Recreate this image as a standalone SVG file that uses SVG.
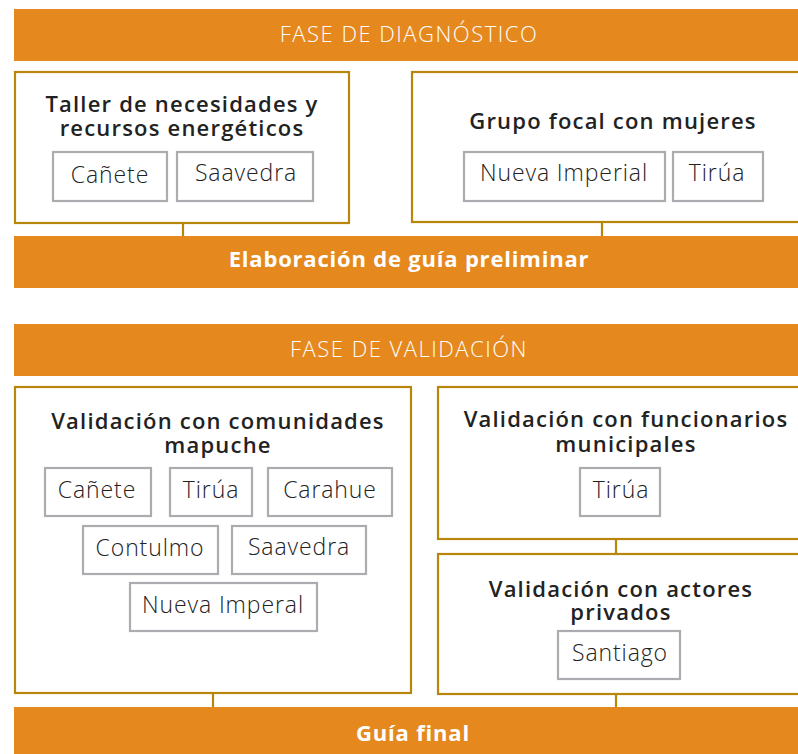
<svg xmlns="http://www.w3.org/2000/svg" width="798" height="754" viewBox="0 0 798 754">
<style>
.bar{fill:#E5891E}
.box{fill:#fff;stroke:#B8860B;stroke-width:2.2}
.sub{fill:#fff;stroke:#ABABB0;stroke-width:2.2}
.conn{stroke:#B8860B;stroke-width:2.2;fill:none}
.hd{font-family:"Open Sans",sans-serif;font-weight:300;font-size:22px;letter-spacing:1.5px;fill:#fff;text-anchor:middle}
.bt{font-family:"Open Sans",sans-serif;font-weight:700;font-size:22px;letter-spacing:0.8px;fill:#fff;text-anchor:middle}
.ti{font-family:"Open Sans",sans-serif;font-weight:600;font-size:22px;letter-spacing:1.2px;fill:#222;text-anchor:middle}
.lb{font-family:"Open Sans",sans-serif;font-weight:300;font-size:23px;letter-spacing:0.9px;fill:#222;text-anchor:middle}
</style>
<rect width="798" height="754" fill="#fff"/>
<g id="connectors">
<line class="conn" x1="183" y1="222" x2="183" y2="237"/>
<line class="conn" x1="602" y1="222" x2="602" y2="237"/>
<line class="conn" x1="213" y1="693" x2="213" y2="708"/>
<line class="conn" x1="616" y1="538" x2="616" y2="555"/>
<line class="conn" x1="616" y1="693" x2="616" y2="708"/>
</g>
<g id="fase-diagnostico">
<rect class="bar" x="14" y="9" width="790" height="52"/>
<text class="hd" x="409" y="42">FASE DE DIAGNÓSTICO</text>
</g>
<g id="taller">
<rect class="box" x="15" y="72" width="334" height="151"/>
<text class="ti" x="182" y="112">Taller de necesidades y</text>
<text class="ti" x="182" y="136">recursos energéticos</text>
<rect class="sub" x="53" y="152" width="114" height="49"/>
<text class="lb" x="110" y="183">Cañete</text>
<rect class="sub" x="177" y="152" width="136" height="49"/>
<text class="lb" x="246" y="181">Saavedra</text>
</g>
<g id="grupo-focal">
<rect class="box" x="412" y="72" width="400" height="150"/>
<text class="ti" x="613" y="129">Grupo focal con mujeres</text>
<rect class="sub" x="464" y="152" width="201" height="49"/>
<text class="lb" x="564" y="181">Nueva Imperial</text>
<rect class="sub" x="673" y="152" width="90" height="49"/>
<text class="lb" x="717" y="181">Tirúa</text>
</g>
<g id="elaboracion">
<rect class="bar" x="14" y="236" width="790" height="52"/>
<text class="bt" x="409" y="267">Elaboración de guía preliminar</text>
</g>
<g id="fase-validacion">
<rect class="bar" x="14" y="324" width="790" height="52"/>
<text class="hd" x="409" y="357">FASE DE VALIDACIÓN</text>
</g>
<g id="comunidades">
<rect class="box" x="15" y="387" width="396" height="306"/>
<text class="ti" x="218" y="429">Validación con comunidades</text>
<text class="ti" x="218" y="453">mapuche</text>
<rect class="sub" x="45" y="468" width="106" height="48"/>
<text class="lb" x="97" y="498">Cañete</text>
<rect class="sub" x="170" y="468" width="82" height="48"/>
<text class="lb" x="211" y="498">Tirúa</text>
<rect class="sub" x="268" y="468" width="124" height="48"/>
<text class="lb" x="330" y="498">Carahue</text>
<rect class="sub" x="83" y="526" width="135" height="48"/>
<text class="lb" x="150" y="556">Contulmo</text>
<rect class="sub" x="232" y="526" width="134" height="48"/>
<text class="lb" x="299" y="555">Saavedra</text>
<rect class="sub" x="130" y="583" width="187" height="48"/>
<text class="lb" x="223" y="613">Nueva Imperal</text>
</g>
<g id="funcionarios">
<rect class="box" x="438" y="387" width="372" height="152"/>
<text class="ti" x="626" y="427">Validación con funcionarios</text>
<text class="ti" x="626" y="452">municipales</text>
<rect class="sub" x="580" y="468" width="80" height="48"/>
<text class="lb" x="621" y="498">Tirúa</text>
</g>
<g id="actores">
<rect class="box" x="438" y="554" width="372" height="140"/>
<text class="ti" x="621" y="597">Validación con actores</text>
<text class="ti" x="621" y="620">privados</text>
<rect class="sub" x="558" y="631" width="122" height="48"/>
<text class="lb" x="620" y="661">Santiago</text>
</g>
<g id="guia-final">
<rect class="bar" x="14" y="707" width="790" height="52"/>
<text class="bt" x="413" y="741">Guía final</text>
</g>
</svg>
